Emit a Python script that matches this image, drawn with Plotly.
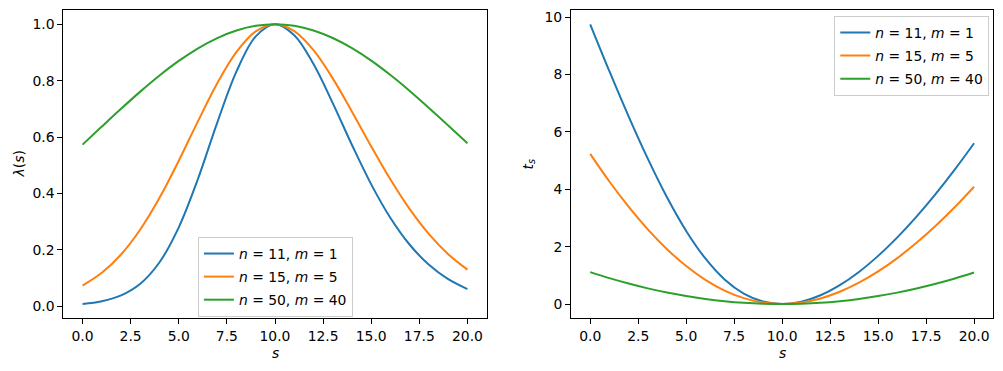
import plotly.graph_objects as go

# ---- data ----
s_vals = list(range(21))
labels = ["<i>n</i> = 11, <i>m</i> = 1", "<i>n</i> = 15, <i>m</i> = 5", "<i>n</i> = 50, <i>m</i> = 40"]
colors = ["#1f77b4", "#ff7f0e", "#2ca02c"]

lam_n11_m1 = [0.0076, 0.0173, 0.0380, 0.0794, 0.1557, 0.2797, 0.4520, 0.6513, 0.8329, 0.9573, 1.0,
              0.9610, 0.8588, 0.7204, 0.5718, 0.4321, 0.3128, 0.2179, 0.1467, 0.0957, 0.0607]
lam_n15_m5 = [0.0731, 0.1182, 0.1834, 0.2720, 0.3844, 0.5160, 0.6565, 0.7909, 0.9021, 0.9749, 1.0,
              0.9757, 0.9081, 0.8082, 0.6901, 0.5668, 0.4491, 0.3441, 0.2556, 0.1844, 0.1295]
lam_n50_m40 = [0.5731, 0.6370, 0.7001, 0.7611, 0.8183, 0.8700, 0.9148, 0.9512, 0.9780, 0.9945, 1.0,
               0.9945, 0.9781, 0.9513, 0.9152, 0.8710, 0.8198, 0.7635, 0.7033, 0.6411, 0.5782]

t_n11_m1 = [9.750, 8.114, 6.542, 5.067, 3.720, 2.548, 1.588, 0.858, 0.366, 0.087, 0.0,
            0.080, 0.304, 0.656, 1.118, 1.678, 2.324, 3.047, 3.839, 4.693, 5.603]
t_n15_m5 = [5.233, 4.271, 3.393, 2.604, 1.912, 1.323, 0.842, 0.469, 0.206, 0.051, 0.0,
            0.049, 0.193, 0.426, 0.742, 1.136, 1.601, 2.134, 2.729, 3.381, 4.088]
t_n50_m40 = [1.113, 0.902, 0.713, 0.546, 0.401, 0.278, 0.178, 0.100, 0.044, 0.011, 0.0,
             0.011, 0.044, 0.100, 0.177, 0.276, 0.397, 0.540, 0.704, 0.889, 1.096]

x_ticks = [0, 2.5, 5, 7.5, 10, 12.5, 15, 17.5, 20]
lam_ticks = [0.0, 0.2, 0.4, 0.6, 0.8, 1.0]
t_ticks = [0, 2, 4, 6, 8, 10]

lam_series = [lam_n11_m1, lam_n15_m5, lam_n50_m40]
t_series = [t_n11_m1, t_n15_m5, t_n50_m40]

W, H = 1003, 371
FONT = "DejaVu Sans"
FS = 13.9

fig = go.Figure()
for i in range(3):
    fig.add_trace(go.Scatter(x=s_vals, y=lam_series[i], mode="lines", name=labels[i],
                             line=dict(color=colors[i], width=2, shape="spline"),
                             xaxis="x", yaxis="y", legend="legend", legendgroup=f"L{i}"))
for i in range(3):
    fig.add_trace(go.Scatter(x=s_vals, y=t_series[i], mode="lines", name=labels[i],
                             line=dict(color=colors[i], width=2, shape="spline"),
                             xaxis="x2", yaxis="y2", legend="legend2", legendgroup=f"R{i}"))


def padded(vals_lists):
    lo = min(min(v) for v in vals_lists)
    hi = max(max(v) for v in vals_lists)
    m = 0.05 * (hi - lo)
    return [lo - m, hi + m]


common = dict(showline=True, linecolor="black", linewidth=1, mirror=True,
              ticks="outside", ticklen=5, tickwidth=1, tickcolor="black",
              showgrid=False, zeroline=False, automargin=False,
              tickfont=dict(family=FONT, size=FS, color="black"))

ydom = [(H - 318) / H, (H - 10.3) / H]
legend_common = dict(bgcolor="rgba(255,255,255,0.8)", bordercolor="#cccccc", borderwidth=1,
                     font=dict(family=FONT, size=FS, color="black"),
                     tracegroupgap=2, traceorder="grouped", xanchor="center", yanchor="top")
fig.update_layout(
    width=W, height=H,
    margin=dict(l=0, r=0, t=0, b=0),
    paper_bgcolor="white", plot_bgcolor="white",
    font=dict(family=FONT, size=FS, color="black"),
    xaxis=dict(domain=[63.3 / W, 486.7 / W], anchor="y", range=[-1, 21],
               tickvals=x_ticks, tickformat=".1f", **common),
    yaxis=dict(domain=ydom, anchor="x", range=padded(lam_series),
               tickvals=lam_ticks, tickformat=".1f", **common),
    xaxis2=dict(domain=[571 / W, 993.3 / W], anchor="y2", range=[-1, 21],
                tickvals=x_ticks, tickformat=".1f", **common),
    yaxis2=dict(domain=ydom, anchor="x2", range=padded(t_series),
                tickvals=t_ticks, tickformat="d", **common),
    legend=dict(x=275.4 / W, y=(H - 237) / H, **legend_common),
    legend2=dict(x=911.8 / W, y=(H - 16) / H, **legend_common),
    showlegend=True,
)

ann_font = dict(family=FONT, size=FS, color="black")
fig.add_annotation(text="<i>s</i>", x=275 / W, y=(H - 353) / H, xref="paper", yref="paper",
                   showarrow=False, font=ann_font, xanchor="center", yanchor="middle")
fig.add_annotation(text="<i>s</i>", x=782 / W, y=(H - 353) / H, xref="paper", yref="paper",
                   showarrow=False, font=ann_font, xanchor="center", yanchor="middle")
fig.add_annotation(text="<i>λ</i>(<i>s</i>)", x=18.5 / W, y=(H - 164) / H, xref="paper", yref="paper",
                   showarrow=False, font=ann_font, textangle=-90, xanchor="center", yanchor="middle")
fig.add_annotation(text="<i>t</i><sub><i>s</i></sub>", x=528.5 / W, y=(H - 164) / H, xref="paper",
                   yref="paper", showarrow=False, font=ann_font, textangle=-90,
                   xanchor="center", yanchor="middle")

fig.write_html("out.html", config={"displayModeBar": False},
               post_script="document.body.style.margin='0';document.body.style.padding='0';")
